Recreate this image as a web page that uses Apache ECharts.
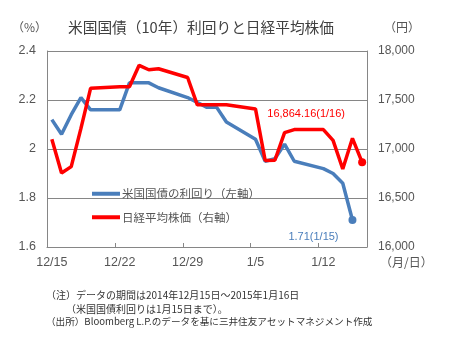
<!DOCTYPE html>
<html>
<head>
<meta charset="utf-8">
<script src="https://cdn.jsdelivr.net/npm/echarts@6/dist/echarts.min.js"></script>
<style>
  html, body { margin: 0; padding: 0; background: #fff; }
  #chart { width: 449px; height: 344px; }
</style>
</head>
<body>
<div id="chart"></div>
<script>
// Calendar days 2014/12/15 - 2015/1/16 (weekends are null and bridged by the lines)
const dates = [
  '12/15','12/16','12/17','12/18','12/19','12/20','12/21',
  '12/22','12/23','12/24','12/25','12/26','12/27','12/28',
  '12/29','12/30','12/31','1/1','1/2','1/3','1/4',
  '1/5','1/6','1/7','1/8','1/9','1/10','1/11',
  '1/12','1/13','1/14','1/15','1/16'
];

// US 10-year Treasury yield (%), left axis
const usYield = [
  2.12, 2.06, 2.14, 2.21, 2.16, null, null,
  2.16, 2.27, 2.27, 2.27, 2.25, null, null,
  2.21, 2.19, 2.17, 2.17, 2.11, null, null,
  2.04, 1.95, 1.96, 2.02, 1.95, null, null,
  1.92, 1.90, 1.86, 1.71, null
];

// Nikkei 225 (yen), right axis
const nikkei = [
  17099, 16755, 16820, 17210, 17621, null, null,
  17635, 17635, 17854, 17809, 17819, null, null,
  17730, 17451, 17451, 17451, 17451, null, null,
  17409, 16883, 16885, 17167, 17198, null, null,
  17198, 17088, 16796, 17109, 16864.16
];

const seriesNames = ['米国国債の利回り（左軸）', '日経平均株価（右軸）'];
const labelTicks = ['12/15', '12/22', '12/29', '1/5', '1/12'];

const BLUE = '#4a7ebb';
const RED = '#ff0000';
const TXT = '#555555';
const FONT = '"Liberation Sans", "Noto Sans CJK JP", sans-serif';
const JFONT = '"Noto Sans CJK JP", sans-serif';

function lastIndex(arr) {
  for (let i = arr.length - 1; i >= 0; i--) if (arr[i] != null) return i;
  return -1;
}

function withCommas(v) {
  const parts = v.toFixed(2).split('.');
  parts[0] = parts[0].replace(/\B(?=(\d{3})+(?!\d))/g, ',');
  return parts.join('.');
}

// Mark the final observation of a series with a dot and a value label
function endMarked(arr, color, fmt, offset) {
  const li = lastIndex(arr);
  return arr.map((v, i) => {
    if (i !== li) return v;
    return {
      value: v,
      symbol: 'circle',
      symbolSize: 8,
      label: {
        show: true,
        position: 'inside',
        offset: offset,
        formatter: () => fmt(v, dates[i]),
        color: color,
        fontSize: 11,
        fontFamily: FONT
      }
    };
  });
}

const chart = echarts.init(document.getElementById('chart'), null, { renderer: 'canvas' });

chart.setOption({
  animation: false,
  backgroundColor: '#ffffff',
  title: {
    text: '米国国債（10年）利回りと日経平均株価',
    left: 68,
    top: 20,
    padding: 0,
    textStyle: { fontSize: 14.7, fontWeight: 'normal', color: '#404040', fontFamily: JFONT }
  },
  grid: { left: 47, right: 82, top: 51, bottom: 97, containLabel: false },
  legend: {
    orient: 'vertical',
    left: 87,
    top: 183,
    itemWidth: 28,
    itemHeight: 4,
    itemGap: 12,
    icon: 'rect',
    selectedMode: false,
    data: seriesNames,
    textStyle: { fontSize: 11.5, color: TXT, fontFamily: JFONT, padding: [0, 0, 0, -3] }
  },
  xAxis: {
    type: 'category',
    data: dates,
    boundaryGap: true,
    axisLine: { lineStyle: { color: '#868686', width: 1 } },
    axisTick: { show: true, inside: true, length: 4, interval: 6, alignWithLabel: false,
                lineStyle: { color: '#868686' } },
    axisLabel: {
      interval: (i, v) => labelTicks.indexOf(v) >= 0,
      color: TXT, fontSize: 12.5, fontFamily: FONT, margin: 9
    },
    splitLine: { show: false }
  },
  yAxis: [
    {
      type: 'value',
      min: 1.6, max: 2.4, interval: 0.2,
      axisLine: { show: true, lineStyle: { color: '#868686' } },
      axisTick: { show: false },
      axisLabel: { color: TXT, fontSize: 12.5, fontFamily: FONT, margin: 11,
                   formatter: v => String(+v.toFixed(1)) },
      splitLine: { show: true, lineStyle: { color: '#868686', width: 1 } }
    },
    {
      type: 'value',
      min: 16000, max: 18000, interval: 500,
      axisLine: { show: true, lineStyle: { color: '#868686' } },
      axisTick: { show: false },
      axisLabel: { color: TXT, fontSize: 12, fontFamily: FONT, margin: 11,
                   formatter: v => v.toLocaleString('en-US') },
      splitLine: { show: false }
    }
  ],
  series: [
    {
      name: seriesNames[0],
      type: 'line',
      yAxisIndex: 0,
      data: endMarked(usYield, BLUE, (v, d) => v.toFixed(2) + '(' + d + ')', [-39, 17]),
      connectNulls: true,
      symbol: 'none',
      showAllSymbol: true,
      lineStyle: { color: BLUE, width: 3.5 },
      itemStyle: { color: BLUE },
      emphasis: { disabled: true },
      z: 3
    },
    {
      name: seriesNames[1],
      type: 'line',
      yAxisIndex: 1,
      data: endMarked(nikkei, RED, (v, d) => withCommas(v) + '(' + d + ')', [-56, -48]),
      connectNulls: true,
      symbol: 'none',
      showAllSymbol: true,
      lineStyle: { color: RED, width: 3.5 },
      itemStyle: { color: RED },
      emphasis: { disabled: true },
      z: 4
    }
  ],
  graphic: [
    { type: 'text', left: 12, top: 21,
      style: { text: '（%）', font: '12px ' + JFONT, fill: TXT } },
    { type: 'text', left: 384, top: 21,
      style: { text: '（円）', font: '12px ' + JFONT, fill: TXT } },
    { type: 'text', left: 380, top: 256,
      style: { text: '（月/日）', font: '12px ' + JFONT, fill: TXT } },
    { type: 'text', left: 46, top: 290,
      style: { text: '（注）データの期間は2014年12月15日～2015年1月16日', font: '10px ' + JFONT, fill: '#333333' } },
    { type: 'text', left: 66, top: 304,
      style: { text: '（米国国債利回りは1月15日まで）。', font: '10px ' + JFONT, fill: '#333333' } },
    { type: 'text', left: 46, top: 317,
      style: { text: '（出所）Bloomberg L.P.のデータを基に三井住友アセットマネジメント作成', font: '9.6px ' + JFONT, fill: '#333333' } }
  ]
});
</script>
</body>
</html>
